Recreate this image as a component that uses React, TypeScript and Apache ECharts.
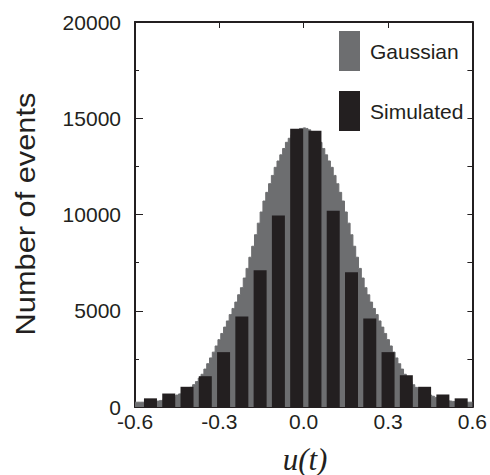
import React, { useEffect, useRef } from "react";
import * as echarts from "echarts";

// Simulated histogram (bin centres and counts)
const simU = [-0.545, -0.48, -0.415, -0.35, -0.285, -0.22, -0.155, -0.09, -0.025, 0.04, 0.105, 0.17, 0.235, 0.3, 0.365, 0.43, 0.495, 0.56];
const simCounts = [450, 700, 1050, 1600, 2850, 4700, 7100, 9950, 14450, 14350, 10200, 7000, 4600, 2850, 1650, 1050, 650, 450];

// Gaussian reference (fine stepped outline)
const gaussU = [
  -0.6, -0.59, -0.58, -0.57, -0.56, -0.55, -0.54, -0.53, -0.52, -0.51, -0.5, -0.49, -0.48, -0.47, -0.46, -0.45,
  -0.44, -0.43, -0.42, -0.41, -0.4, -0.39, -0.38, -0.37, -0.36, -0.35, -0.34, -0.33, -0.32, -0.31, -0.3,
  -0.29, -0.28, -0.27, -0.26, -0.25, -0.24, -0.23, -0.22, -0.21, -0.2, -0.19, -0.18, -0.17, -0.16, -0.15,
  -0.14, -0.13, -0.12, -0.11, -0.1, -0.09, -0.08, -0.07, -0.06, -0.05, -0.04, -0.03, -0.02, -0.01, 0,
  0.01, 0.02, 0.03, 0.04, 0.05, 0.06, 0.07, 0.08, 0.09, 0.1, 0.11, 0.12, 0.13, 0.14, 0.15,
  0.16, 0.17, 0.18, 0.19, 0.2, 0.21, 0.22, 0.23, 0.24, 0.25, 0.26, 0.27, 0.28, 0.29, 0.3,
  0.31, 0.32, 0.33, 0.34, 0.35, 0.36, 0.37, 0.38, 0.39, 0.4, 0.41, 0.42, 0.43, 0.44, 0.45,
  0.46, 0.47, 0.48, 0.49, 0.5, 0.51, 0.52, 0.53, 0.54, 0.55, 0.56, 0.57, 0.58, 0.59, 0.6,
];
const gaussCounts = [
  250, 250, 250, 250, 250, 260, 270, 290, 310, 340, 370, 410, 450, 500, 560, 620,
  680, 760, 840, 930, 1020, 1160, 1320, 1500, 1700, 1970, 2250, 2550, 2850, 3170, 3500,
  3820, 4150, 4470, 4800, 5120, 5450, 5830, 6200, 6700, 7200, 7780, 8350, 8950, 9550, 10130,
  10700, 11150, 11600, 12030, 12450, 12780, 13100, 13430, 13750, 13960, 14150, 14300, 14400, 14470, 14500,
  14470, 14400, 14300, 14150, 13960, 13750, 13430, 13100, 12780, 12450, 12030, 11600, 11150, 10700, 10130,
  9550, 8950, 8350, 7780, 7200, 6700, 6200, 5830, 5450, 5120, 4800, 4470, 4150, 3820, 3500,
  3170, 2850, 2550, 2250, 1970, 1700, 1500, 1320, 1160, 1020, 930, 840, 760, 680, 620,
  560, 500, 450, 410, 370, 340, 310, 290, 270, 260, 250, 250, 250, 250, 250,
];

const xTicks = [-0.6, -0.3, 0, 0.3, 0.6];
const yTicks = [0, 5000, 10000, 15000, 20000];

const GRAY = "#6d6e70";
const BLACK = "#231f20";
const FONT = "Liberation Sans";

export default function App() {
  const ref = useRef<HTMLDivElement>(null);

  useEffect(() => {
    if (!ref.current) return;
    const chart = echarts.init(ref.current, undefined, { renderer: "svg" });
    const xMin = xTicks[0];
    const xMax = xTicks[xTicks.length - 1];
    const xInt = xTicks[1] - xTicks[0];
    const yMax = yTicks[yTicks.length - 1];
    const yInt = yTicks[1] - yTicks[0];

    chart.setOption({
      animation: false,
      backgroundColor: "#ffffff",
      grid: { left: 135, right: 16, top: 22, bottom: 68, containLabel: false },
      legend: {
        left: 334,
        top: 26,
        orient: "vertical",
        itemWidth: 21,
        itemHeight: 40,
        itemGap: 20,
        selectedMode: false,
        textStyle: { fontFamily: FONT, fontSize: 21, color: BLACK, padding: [0, 0, 0, 5] },
        data: [
          { name: "Gaussian", icon: "rect" },
          { name: "Simulated", icon: "rect" },
        ],
      },
      xAxis: [
        {
          type: "value",
          min: xMin,
          max: xMax,
          interval: xInt,
          position: "bottom",
          axisLine: { show: true, onZero: false, lineStyle: { color: BLACK, width: 2 } },
          axisTick: { show: false },
          splitLine: { show: false },
          axisLabel: {
            fontFamily: FONT,
            fontSize: 21,
            color: BLACK,
            margin: 4,
            formatter: (v: number) => v.toFixed(1),
          },
        },
        {
          type: "value",
          min: xMin,
          max: xMax,
          interval: xInt,
          position: "top",
          axisLine: { show: true, onZero: false, lineStyle: { color: BLACK, width: 2 } },
          axisTick: { show: true, inside: true, length: 6, lineStyle: { color: BLACK, width: 1 } },
          splitLine: { show: false },
          axisLabel: { show: false },
        },
      ],
      yAxis: [
        {
          type: "value",
          min: 0,
          max: yMax,
          interval: yInt,
          position: "left",
          axisLine: { show: true, onZero: false, lineStyle: { color: BLACK, width: 2 } },
          axisTick: { show: true, inside: true, length: 8, lineStyle: { color: BLACK, width: 1 } },
          minorTick: { show: true, splitNumber: 2, length: 4, lineStyle: { color: BLACK, width: 1 } },
          splitLine: { show: false },
          axisLabel: {
            fontFamily: FONT,
            fontSize: 21,
            color: BLACK,
            margin: 14,
            formatter: (v: number) => String(v),
          },
        },
        {
          type: "value",
          min: 0,
          max: yMax,
          interval: yInt / 2,
          position: "right",
          axisLine: { show: true, onZero: false, lineStyle: { color: BLACK, width: 2 } },
          axisTick: { show: true, inside: true, length: 5, lineStyle: { color: BLACK, width: 1 } },
          splitLine: { show: false },
          axisLabel: { show: false },
        },
      ],
      series: [
        {
          name: "Gaussian",
          type: "line",
          step: "middle",
          xAxisIndex: 0,
          yAxisIndex: 0,
          showSymbol: false,
          symbol: "none",
          itemStyle: { color: GRAY },
          lineStyle: { color: GRAY, width: 1 },
          areaStyle: { color: GRAY, opacity: 1 },
          z: 2,
          data: gaussU.map((u, i) => [u, gaussCounts[i]]),
        },
        {
          name: "Simulated",
          type: "bar",
          xAxisIndex: 0,
          yAxisIndex: 0,
          barWidth: 13,
          itemStyle: { color: BLACK },
          z: 3,
          data: simU.map((u, i) => [u, simCounts[i]]),
        },
      ],
      graphic: [
        {
          type: "text",
          x: 26,
          y: 214,
          rotation: Math.PI / 2,
          scaleX: 1.14,
          style: {
            text: "Number of events",
            fontFamily: FONT,
            fontSize: 27,
            fill: BLACK,
            textAlign: "center",
            textVerticalAlign: "middle",
          },
        },
        {
          type: "text",
          x: 305,
          y: 459,
          style: {
            text: "u(t)",
            fontFamily: "Liberation Serif",
            fontStyle: "italic",
            fontSize: 31,
            fill: BLACK,
            textAlign: "center",
            textVerticalAlign: "middle",
          },
        },
      ],
    });

    return () => chart.dispose();
  }, []);

  return (
    <div
      ref={ref}
      style={{ position: "absolute", left: 0, top: 0, width: 490, height: 475 }}
    />
  );
}
